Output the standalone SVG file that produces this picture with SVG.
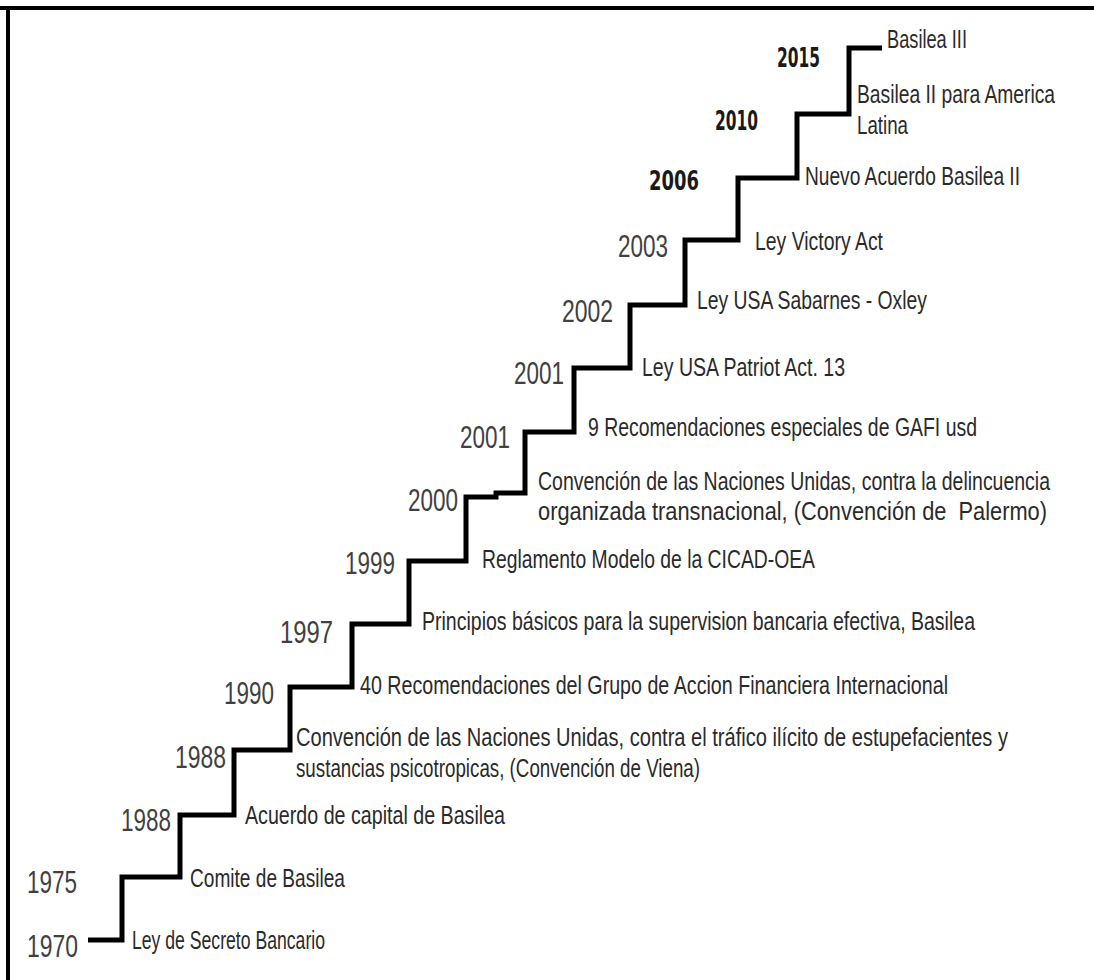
<svg xmlns="http://www.w3.org/2000/svg" width="1094" height="980" viewBox="0 0 1094 980">
<style>
.d{font-family:"Liberation Sans",Arial,sans-serif;font-size:25px;fill:#2a2a2a}
.y{font-family:"Liberation Sans",Arial,sans-serif;font-size:31px;fill:#404040}
.b{font-family:"DejaVu Sans","Liberation Sans",sans-serif;font-size:27px;font-weight:bold;fill:#1a1a1a}
.stair{fill:none;stroke:#000;stroke-width:5;stroke-linejoin:miter}
.frame{stroke:#000;stroke-width:4}
</style>
<rect x="0" y="0" width="1094" height="980" fill="#fff"/>
<g id="frame">
<line class="frame" x1="0" y1="8" x2="1094" y2="8"/>
<line class="frame" x1="8" y1="6" x2="8" y2="980"/>
</g>
<g id="connectors">
<path class="stair" d="M88,940 H122 V877 H180 V815 H234 V750 H290 V687 H352 V624 H409 V561 H466 V497 H496 V493 H525 V432 H574 V368 H630 V305 H685 V240 H738 V178 H797 V114 H849 V48 H882"/>
</g>
<g id="n1970"><text class="y" x="27" y="957" textLength="51" lengthAdjust="spacingAndGlyphs">1970</text><text class="d" x="132" y="949" textLength="193" lengthAdjust="spacingAndGlyphs">Ley de Secreto Bancario</text></g>
<g id="n1975"><text class="y" x="27" y="893" textLength="50" lengthAdjust="spacingAndGlyphs">1975</text><text class="d" x="190" y="887" textLength="155" lengthAdjust="spacingAndGlyphs">Comite de Basilea</text></g>
<g id="n1988a"><text class="y" x="121" y="831" textLength="50" lengthAdjust="spacingAndGlyphs">1988</text><text class="d" x="245" y="824" textLength="260" lengthAdjust="spacingAndGlyphs">Acuerdo de capital de Basilea</text></g>
<g id="n1988b"><text class="y" x="175" y="768" textLength="51" lengthAdjust="spacingAndGlyphs">1988</text><text class="d" x="296" y="746" textLength="712" lengthAdjust="spacingAndGlyphs">Convención de las Naciones Unidas, contra el tráfico ilícito de estupefacientes y</text><text class="d" x="296" y="777" textLength="404" lengthAdjust="spacingAndGlyphs">sustancias psicotropicas, (Convención de Viena)</text></g>
<g id="n1990"><text class="y" x="224" y="704" textLength="50" lengthAdjust="spacingAndGlyphs">1990</text><text class="d" x="360" y="694" textLength="588" lengthAdjust="spacingAndGlyphs">40 Recomendaciones del Grupo de Accion Financiera Internacional</text></g>
<g id="n1997"><text class="y" x="280" y="643" textLength="53" lengthAdjust="spacingAndGlyphs">1997</text><text class="d" x="422" y="630" textLength="553" lengthAdjust="spacingAndGlyphs">Principios básicos para la supervision bancaria efectiva, Basilea</text></g>
<g id="n1999"><text class="y" x="345" y="574" textLength="50" lengthAdjust="spacingAndGlyphs">1999</text><text class="d" x="482" y="568" textLength="333" lengthAdjust="spacingAndGlyphs">Reglamento Modelo de la CICAD-OEA</text></g>
<g id="n2000"><text class="y" x="408" y="511" textLength="50" lengthAdjust="spacingAndGlyphs">2000</text><text class="d" x="538" y="490" textLength="512" lengthAdjust="spacingAndGlyphs">Convención de las Naciones Unidas, contra la delincuencia</text><text class="d" x="538" y="520" textLength="509" lengthAdjust="spacingAndGlyphs">organizada transnacional, (Convención de&#160; Palermo)</text></g>
<g id="n2001a"><text class="y" x="460" y="448" textLength="50" lengthAdjust="spacingAndGlyphs">2001</text><text class="d" x="588" y="436" textLength="389" lengthAdjust="spacingAndGlyphs">9 Recomendaciones especiales de GAFI usd</text></g>
<g id="n2001b"><text class="y" x="514" y="384" textLength="50" lengthAdjust="spacingAndGlyphs">2001</text><text class="d" x="642" y="376" textLength="203" lengthAdjust="spacingAndGlyphs">Ley USA Patriot Act. 13</text></g>
<g id="n2002"><text class="y" x="562" y="322" textLength="51" lengthAdjust="spacingAndGlyphs">2002</text><text class="d" x="697" y="309" textLength="230" lengthAdjust="spacingAndGlyphs">Ley USA Sabarnes - Oxley</text></g>
<g id="n2003"><text class="y" x="618" y="257" textLength="50" lengthAdjust="spacingAndGlyphs">2003</text><text class="d" x="755" y="250" textLength="128" lengthAdjust="spacingAndGlyphs">Ley Victory Act</text></g>
<g id="n2006"><text class="b" x="649" y="190" textLength="50" lengthAdjust="spacingAndGlyphs">2006</text><text class="d" x="805" y="185" textLength="215" lengthAdjust="spacingAndGlyphs">Nuevo Acuerdo Basilea II</text></g>
<g id="n2010"><text class="b" x="715" y="130" textLength="43" lengthAdjust="spacingAndGlyphs">2010</text><text class="d" x="857" y="103" textLength="198" lengthAdjust="spacingAndGlyphs">Basilea II para America</text><text class="d" x="857" y="134" textLength="51" lengthAdjust="spacingAndGlyphs">Latina</text></g>
<g id="n2015"><text class="b" x="777" y="67" textLength="43" lengthAdjust="spacingAndGlyphs">2015</text><text class="d" x="887" y="48" textLength="80" lengthAdjust="spacingAndGlyphs">Basilea III</text></g>
</svg>
